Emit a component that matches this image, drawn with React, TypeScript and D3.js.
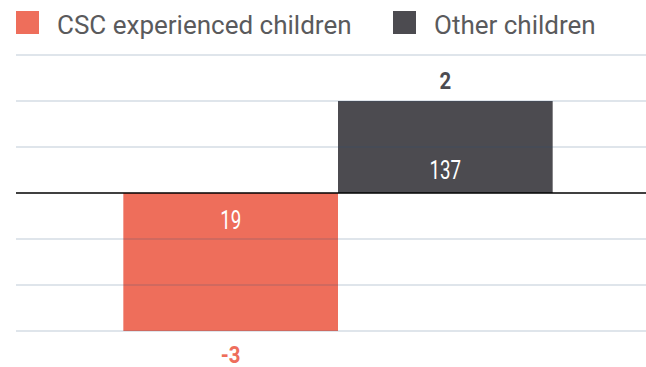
import React from "react";
import * as d3 from "d3";

const categories = ["CSC experienced children", "Other children"];
const values = [-3, 2];
const innerLabels = ["19", "137"];
const colors = ["#ee6e5b", "#4c4b50"];
const yTicks = [-3, -2, -1, 0, 1, 2, 3];

const W = 646;
const H = 367;

export default function App() {
  const x = d3.scaleBand<string>().domain(categories).range([16, 660]).paddingInner(0).paddingOuter(0.5);
  const y = d3.scaleLinear().domain([-3, 3]).range([331, 55]);
  const numFont = "Roboto, sans-serif";
  return (
    <svg width={W} height={H} style={{ position: "absolute", left: 0, top: 0, background: "#fff" }}>
      {/* legend */}
      {categories.map((c, i) => {
        const lx = i === 0 ? 16 : 393;
        return (
          <g key={c}>
            <rect x={lx} y={11} width={23} height={23} fill={colors[i]} />
            <text x={lx + 41} y={34} fontFamily="Roboto, sans-serif" fontSize={26} fill="#5a5a5c">
              {c}
            </text>
          </g>
        );
      })}
      {/* bars */}
      {categories.map((c, i) => {
        const v = values[i];
        const y0 = y(0);
        const y1 = y(v);
        return (
          <rect
            key={c}
            x={x(c)}
            y={Math.min(y0, y1)}
            width={x.bandwidth()}
            height={Math.abs(y1 - y0)}
            fill={colors[i]}
          />
        );
      })}
      {/* gridlines */}
      {yTicks.filter((t) => t !== 0).map((t) => (
        <line key={t} x1={16} x2={W} y1={y(t)} y2={y(t)} stroke="#2d5678" strokeOpacity={0.2} strokeWidth={1.5} />
      ))}
      <line x1={16} x2={W} y1={y(0)} y2={y(0)} stroke="#000" strokeWidth={1.5} />
      {/* labels */}
      {categories.map((c, i) => {
        const v = values[i];
        const cx = (x(c) as number) + x.bandwidth() / 2;
        const inY = v < 0 ? y(0) + 36 : y(0) - 14;
        const outY = v < 0 ? y(v) + 32 : y(v) - 12;
        return (
          <g key={c} fontFamily={numFont} textAnchor="middle">
            <text transform={`translate(${cx},${inY}) scale(0.75,1)`} fontSize={25} fill="#fff">
              {innerLabels[i]}
            </text>
            <text transform={`translate(${cx},${outY}) scale(0.85,1)`} fontSize={24} fontWeight="bold" fill={colors[i]}>
              {v}
            </text>
          </g>
        );
      })}
    </svg>
  );
}
